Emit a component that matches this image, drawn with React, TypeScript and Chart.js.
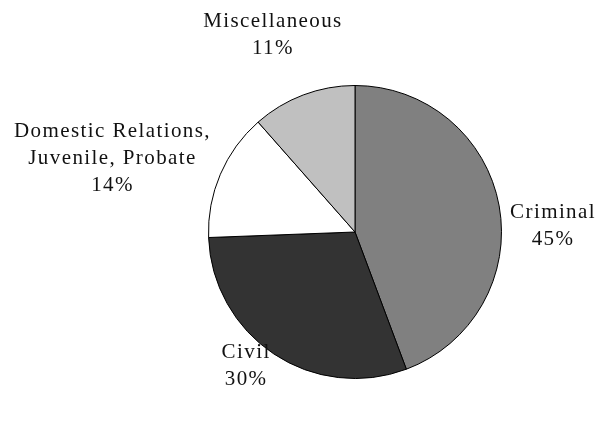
import React, { useEffect, useRef } from "react";
import { Chart, registerables } from "chart.js";

Chart.register(...registerables);

const categories = ["Criminal", "Civil", "Domestic Relations, Juvenile, Probate", "Miscellaneous"];
const labelLines = [["Criminal"], ["Civil"], ["Domestic Relations,", "Juvenile, Probate"], ["Miscellaneous"]];
const shares = [44.3, 30.1, 14.1, 11.5];
const percentLabels = ["45%", "30%", "14%", "11%"];
const sliceColors = ["#808080", "#333333", "#ffffff", "#c0c0c0"];

// label block centre, relative to pie centre, in units of the pie radius
const labelPlacement: [number, number][] = [
  [1.347, -0.041],
  [-0.748, 0.912],
  [-1.66, -0.503],
  [-0.565, -1.347],
];

const FONT = '21px "Liberation Serif"';
const LINE_H = 27;
const LS = 1.4;

const labelPlugin = {
  id: "outerLabels",
  afterDatasetsDraw(chart: any) {
    const ctx = chart.ctx as CanvasRenderingContext2D;
    const meta = chart.getDatasetMeta(0);
    ctx.save();
    ctx.font = FONT;
    (ctx as any).letterSpacing = LS + "px";
    ctx.fillStyle = "#111111";
    ctx.textAlign = "center";
    ctx.textBaseline = "middle";
    meta.data.forEach((arc: any, i: number) => {
      const { x, y, outerRadius } = arc.getProps(["x", "y", "outerRadius"], true);
      const lines = [...labelLines[i], percentLabels[i]];
      const cx = x + labelPlacement[i][0] * outerRadius;
      const cy = y + labelPlacement[i][1] * outerRadius;
      const top = cy - ((lines.length - 1) * LINE_H) / 2;
      lines.forEach((t, j) => {
        ctx.fillText(t, cx + LS / 2, top + j * LINE_H);
      });
    });
    ctx.restore();
  },
};

export default function App() {
  const ref = useRef<HTMLCanvasElement>(null);
  useEffect(() => {
    const chart = new Chart(ref.current!, {
      type: "pie",
      data: {
        labels: categories,
        datasets: [
          {
            data: shares,
            backgroundColor: sliceColors,
            borderColor: "#000000",
            borderWidth: 1,
          },
        ],
      },
      options: {
        responsive: false,
        animation: false,
        layout: { padding: { left: 208, right: 95, top: 85, bottom: 43 } },
        plugins: { legend: { display: false }, tooltip: { enabled: false } },
      },
      plugins: [labelPlugin],
    });
    return () => chart.destroy();
  }, []);
  return (
    <div style={{ position: "fixed", left: 0, top: 0, width: 597, height: 422, background: "#fff" }}>
      <canvas ref={ref} width={597} height={422} />
    </div>
  );
}
